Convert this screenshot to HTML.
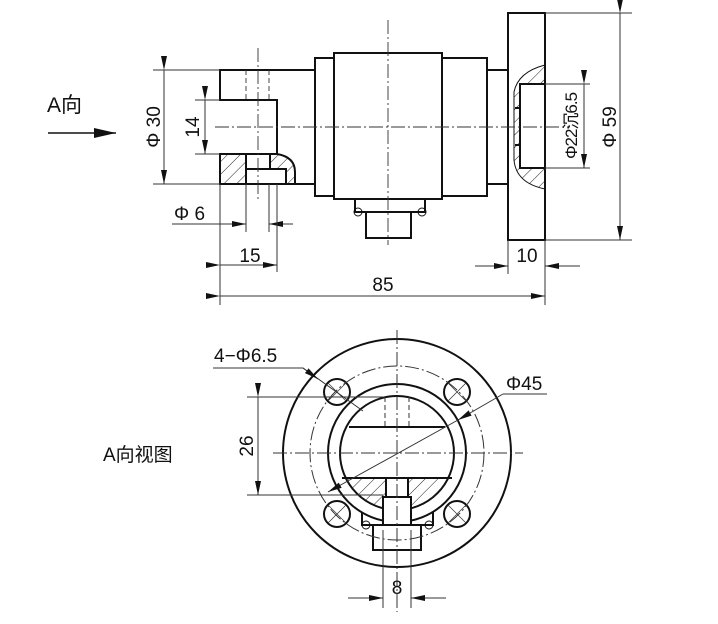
<!DOCTYPE html>
<html><head><meta charset="utf-8"><style>
html,body{margin:0;padding:0;background:#fff;}
svg{display:block;}
text{font-family:"Liberation Sans","Noto Sans CJK SC",sans-serif;fill:#111;}
</style></head><body>
<svg width="718" height="624" viewBox="0 0 718 624" xmlns="http://www.w3.org/2000/svg">
<defs>
<pattern id="h" patternUnits="userSpaceOnUse" width="9" height="9" patternTransform="rotate(45)">
<line x1="0" y1="0" x2="0" y2="9" stroke="#222" stroke-width="1"/>
</pattern>
<marker id="a" markerWidth="14" markerHeight="6" refX="14" refY="3" orient="auto" markerUnits="userSpaceOnUse">
<path d="M0,0 L14,3 L0,6 z" fill="#111"/></marker>
<marker id="b" markerWidth="22" markerHeight="10" refX="22" refY="5" orient="auto" markerUnits="userSpaceOnUse">
<path d="M0,0 L22,5 L0,10 z" fill="#111"/></marker>
<clipPath id="ic"><circle cx="397" cy="453" r="57"/></clipPath>
</defs>

<!-- A向 -->
<text x="47" y="112" font-size="21">A向</text>
<line x1="48" y1="133" x2="116" y2="133" stroke="#111" stroke-width="1.5" marker-end="url(#b)"/>

<g fill="none" stroke="#111" stroke-width="2">
<path d="M315,70 H220 V100 H277 V154 H220 V184 H315"/>
<rect x="220" y="154" width="26" height="30" fill="url(#h)"/>
<path d="M270,154 H277 Q295,157 295,172 V184 H286 V169 H270 Z" fill="url(#h)"/>
<rect x="246" y="169" width="40" height="15"/>
<line x1="246" y1="154" x2="246" y2="184"/>
<line x1="270" y1="154" x2="270" y2="169"/>
<rect x="315" y="58" width="19" height="138"/>
<rect x="334" y="53" width="108" height="146"/>
<rect x="442" y="58" width="45" height="138"/>
<rect x="487" y="70" width="21" height="114"/>
<rect x="508" y="13" width="37" height="227"/>
<path d="M545,65 Q518,72 514,92 V160 Q516,183 545,189 Z" fill="url(#h)" stroke-width="1"/>
<rect x="520" y="84" width="25" height="84" fill="#fff"/>
<line x1="515" y1="108" x2="520" y2="108"/><line x1="515" y1="145" x2="520" y2="145"/>
<path d="M355,199 V212 H425 V199"/>
<rect x="366" y="212" width="45" height="26"/>
</g>
<g fill="none" stroke="#111" stroke-width="1">
<circle cx="358" cy="212" r="4"/><circle cx="422" cy="212" r="4"/>
</g>

<g stroke="#333" stroke-width="0.9" fill="none">
<line x1="215" y1="127" x2="570" y2="127" stroke-dasharray="14,3,2,3"/>
<line x1="258" y1="48" x2="258" y2="200" stroke-dasharray="14,3,2,3"/>
<line x1="388" y1="20" x2="388" y2="245" stroke-dasharray="14,3,2,3"/>
<line x1="246" y1="70" x2="246" y2="100" stroke-dasharray="5,3"/>
<line x1="269" y1="70" x2="269" y2="100" stroke-dasharray="5,3"/>
</g>

<g stroke="#333" stroke-width="1" fill="none">
<line x1="153" y1="70" x2="220" y2="70"/><line x1="153" y1="184" x2="220" y2="184"/>
<line x1="164" y1="70" x2="164" y2="184" marker-start="url(#a)" marker-end="url(#a)"/>
<line x1="195" y1="100" x2="220" y2="100"/><line x1="195" y1="154" x2="220" y2="154"/>
<line x1="205" y1="100" x2="205" y2="154" marker-start="url(#a)" marker-end="url(#a)"/>
<line x1="246" y1="184" x2="246" y2="232"/><line x1="269" y1="184" x2="269" y2="232"/>
<line x1="172" y1="224" x2="246" y2="224" marker-end="url(#a)"/>
<line x1="293" y1="224" x2="269" y2="224" marker-end="url(#a)"/>
<line x1="220" y1="184" x2="220" y2="305"/><line x1="277" y1="184" x2="277" y2="272"/>
<line x1="220" y1="265" x2="277" y2="265" marker-start="url(#a)" marker-end="url(#a)"/>
<line x1="545" y1="240" x2="545" y2="305"/><line x1="508" y1="240" x2="508" y2="274"/>
<line x1="220" y1="296" x2="545" y2="296" marker-start="url(#a)" marker-end="url(#a)"/>
<line x1="475" y1="266" x2="508" y2="266" marker-end="url(#a)"/>
<line x1="580" y1="266" x2="545" y2="266" marker-end="url(#a)"/>
<line x1="545" y1="13" x2="632" y2="13"/><line x1="545" y1="240" x2="632" y2="240"/>
<line x1="620" y1="13" x2="620" y2="240" marker-start="url(#a)" marker-end="url(#a)"/>
<line x1="545" y1="84" x2="590" y2="84"/><line x1="545" y1="168" x2="590" y2="168"/>
<line x1="584" y1="84" x2="584" y2="168" marker-start="url(#a)" marker-end="url(#a)"/>
</g>
<g font-size="19">
<text transform="translate(160,127) rotate(-90)" text-anchor="middle">Φ 30</text>
<text transform="translate(199,127) rotate(-90)" text-anchor="middle">14</text>
<text x="174" y="220">Φ 6</text>
<text x="250" y="262" text-anchor="middle">15</text>
<text x="383" y="291" text-anchor="middle">85</text>
<text x="527" y="262" text-anchor="middle">10</text>
<text transform="translate(616,127) rotate(-90)" text-anchor="middle">Φ 59</text>
<text transform="translate(577,126) rotate(-90)" text-anchor="middle" font-size="17" letter-spacing="-1">Φ22沉6.5</text>
</g>

<text x="103" y="461" font-size="19">A向视图</text>
<g fill="none" stroke="#111" stroke-width="2">
<circle cx="397" cy="453" r="114"/>
<circle cx="397" cy="453" r="69"/>
<circle cx="397" cy="453" r="57"/>
<circle cx="337" cy="392" r="13"/><circle cx="457" cy="392" r="13"/>
<circle cx="337" cy="514" r="13"/><circle cx="457" cy="514" r="13"/>
<g clip-path="url(#ic)"><rect x="330" y="478" width="140" height="40" fill="url(#h)" stroke="none"/></g>
<line x1="349" y1="427" x2="445" y2="427"/>
<line x1="342" y1="478" x2="452" y2="478"/>
<rect x="386" y="478" width="22" height="19" fill="#fff"/>
<rect x="383" y="497" width="28" height="33" fill="#fff"/>
<path d="M362,512 V525 H433 V512"/>
<rect x="373" y="525" width="48" height="25" fill="#fff"/>
</g>
<g fill="none" stroke="#111" stroke-width="1">
<circle cx="366" cy="525" r="4"/><circle cx="429" cy="525" r="4"/>
</g>
<g stroke="#333" stroke-width="1" fill="none">
<circle cx="397" cy="453" r="87" stroke-dasharray="14,3,2,3"/>
<line x1="273" y1="453" x2="523" y2="453" stroke-dasharray="14,3,2,3"/>
<line x1="397" y1="330" x2="397" y2="612" stroke-dasharray="14,3,2,3"/>
<line x1="385" y1="397" x2="385" y2="427" stroke-dasharray="5,3"/>
<line x1="409" y1="397" x2="409" y2="427" stroke-dasharray="5,3"/>
<g stroke-width="0.7">
<line x1="328" y1="383" x2="346" y2="401"/><line x1="346" y1="383" x2="328" y2="401"/>
<line x1="448" y1="383" x2="466" y2="401"/><line x1="466" y1="383" x2="448" y2="401"/>
<line x1="328" y1="505" x2="346" y2="523"/><line x1="346" y1="505" x2="328" y2="523"/>
<line x1="448" y1="505" x2="466" y2="523"/><line x1="466" y1="505" x2="448" y2="523"/>
</g>
<line x1="247" y1="397" x2="383" y2="397"/><line x1="247" y1="495" x2="383" y2="495"/>
<line x1="258" y1="397" x2="258" y2="495" marker-start="url(#a)" marker-end="url(#a)"/>
<line x1="383" y1="530" x2="383" y2="608"/><line x1="411" y1="530" x2="411" y2="608"/>
<line x1="348" y1="598" x2="383" y2="598" marker-end="url(#a)"/>
<line x1="446" y1="598" x2="411" y2="598" marker-end="url(#a)"/>
<polyline points="213,368 303,368 363,411"/>
<line x1="303" y1="368" x2="318" y2="379" marker-end="url(#a)"/>
<line x1="547" y1="394" x2="503" y2="394"/>
<line x1="503" y1="394" x2="458" y2="420" marker-end="url(#a)"/>
<line x1="458" y1="420" x2="328" y2="492" marker-end="url(#a)"/>
</g>
<g font-size="19">
<text x="214" y="362">4−Φ6.5</text>
<text x="506" y="390">Φ45</text>
<text transform="translate(253,446) rotate(-90)" text-anchor="middle">26</text>
<text x="397" y="594" text-anchor="middle">8</text>
</g>
</svg>
</body></html>
